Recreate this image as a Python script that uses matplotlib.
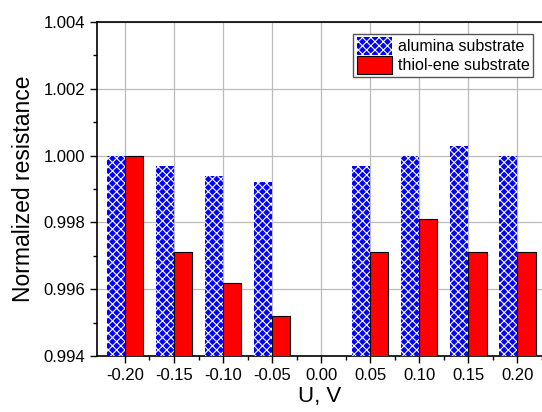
import numpy as np
import matplotlib
matplotlib.use('Agg')
from matplotlib import pyplot as plt
from matplotlib.ticker import MultipleLocator

plt.rcParams['font.family'] = ['Liberation Sans', 'DejaVu Sans']
plt.rcParams['hatch.color'] = 'white'
plt.rcParams['hatch.linewidth'] = 0.8

# Data
voltage = ['-0.20', '-0.15', '-0.10', '-0.05', '0.00', '0.05', '0.10', '0.15', '0.20']
alumina = [1.0000, 0.9997, 0.9994, 0.9992, np.nan, 0.9997, 1.0000, 1.0003, 1.0000]
thiol_ene = [1.0000, 0.9971, 0.9962, 0.9952, np.nan, 0.9971, 0.9981, 0.9971, 0.9971]

x = np.arange(len(voltage))
w = 0.37

fig = plt.figure(figsize=(5.42, 4.12), dpi=100)
ax = fig.add_axes([97 / 542, 56 / 412, 445 / 542, 334 / 412])

ax.bar(x - w / 2, alumina, w, color='#0000ff', hatch='xxxx', edgecolor='white',
       linewidth=0, label='alumina substrate', zorder=3)
ax.bar(x + w / 2, thiol_ene, w, color='#ff0000', edgecolor='black',
       linewidth=0.8, label='thiol-ene substrate', zorder=3)

ax.set_ylim(0.994, 1.004)
ax.set_xlim(-0.57, 8.47)
ax.set_xticks(x)
ax.set_xticklabels(voltage)
ax.set_xticks(x + 0.5, minor=True)
ax.yaxis.set_major_locator(MultipleLocator(0.002))
ax.yaxis.set_minor_locator(MultipleLocator(0.001))
ax.yaxis.set_major_formatter(matplotlib.ticker.FormatStrFormatter('%.3f'))
ax.tick_params(axis='both', which='major', labelsize=12, length=5, width=1)
ax.tick_params(axis='both', which='minor', length=3, width=1)

ax.grid(True, which='major', color='#bbbbbb', linewidth=0.9, zorder=0)
ax.spines['right'].set_visible(False)
for s in ['left', 'bottom', 'top']:
    ax.spines[s].set_linewidth(1.2)

ax.set_xlabel('U, V', fontsize=16, labelpad=2)
ax.set_ylabel('Normalized resistance', fontsize=16.5, labelpad=6)

leg = ax.legend(loc='upper right', bbox_to_anchor=(0.98, 0.964), borderaxespad=0,
                fontsize=11.5, fancybox=False, edgecolor='#555555', framealpha=1,
                handlelength=2.2, handleheight=1.3, borderpad=0.2,
                labelspacing=0.1, handletextpad=0.4)

fig.savefig('out.png', dpi=100)
